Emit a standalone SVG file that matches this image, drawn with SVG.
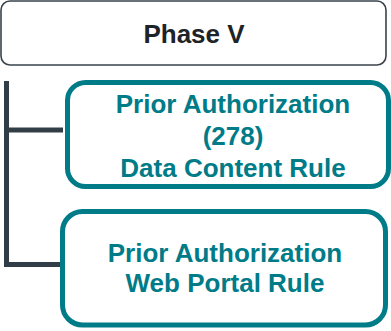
<svg xmlns="http://www.w3.org/2000/svg" width="391" height="331" viewBox="0 0 391 331">
<style>
.t{font-family:"Liberation Sans",Arial,sans-serif;font-weight:bold;font-size:26px;text-anchor:middle}
.teal{fill:#007b88}
.box{fill:#ffffff;stroke:#007b88;stroke-width:5}
.conn{stroke:#323e47;stroke-width:5;fill:none}
</style>
<rect width="391" height="331" fill="#ffffff"/>
<g id="connectors">
<path class="conn" d="M6.5 81 V264.5 H62"/>
<path class="conn" d="M6.5 130 H63"/>
</g>
<g id="phase">
<rect x="1" y="1" width="385" height="64" rx="9" fill="#ffffff" stroke="#3a434b" stroke-width="1.6"/>
<text class="t" x="194" y="43" fill="#1e2328">Phase V</text>
</g>
<g id="node1">
<rect class="box" x="67.5" y="82.5" width="321" height="104" rx="18"/>
<text class="t teal" x="233" y="113">Prior Authorization</text>
<text class="t teal" x="233" y="145">(278)</text>
<text class="t teal" x="233" y="177">Data Content Rule</text>
</g>
<g id="node2">
<rect class="box" x="62.5" y="211.5" width="323" height="113.5" rx="20"/>
<text class="t teal" x="225" y="262">Prior Authorization</text>
<text class="t teal" x="225" y="292">Web Portal Rule</text>
</g>
</svg>
